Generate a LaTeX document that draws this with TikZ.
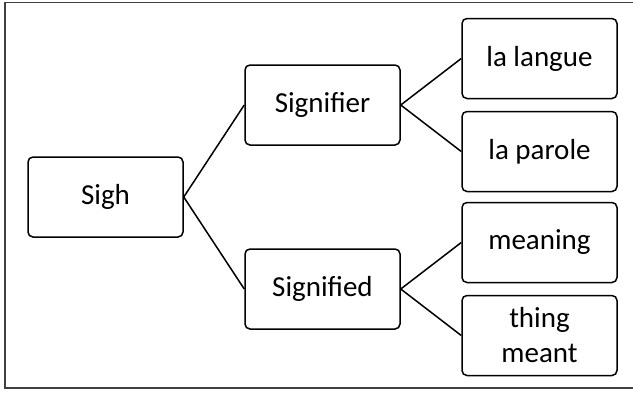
\documentclass[tikz,border=0pt]{standalone}
\usepackage{fontspec}
\setmainfont{Carlito}
\usetikzlibrary{positioning}

\begin{document}
\begin{tikzpicture}[
    node distance=92pt and 217pt,
    on grid,
    every node/.style={font=\fontsize{29}{35}\selectfont},
    term/.style={draw=black, line width=1.5pt, rounded corners=5pt, minimum width=155pt, minimum height=80pt, align=center, inner sep=2pt},
    link/.style={line width=1.5pt, draw=black}
]

   % Page and frame
   \useasboundingbox (0,0) rectangle (633pt,-394pt);
   \draw[black!75, line width=1.2pt] (640pt,-2.5pt) -- (5pt,-2.5pt) -- (5pt,-388pt) -- (640pt,-388pt);

   % Terms
   \node[term] (sigh) at (105.5pt,-197pt) {Sigh}; % root
   \node[term] (signifier) [above right=of sigh] {Signifier};
   \node[term] (signified) [below right=of sigh] {Signified};
   \node[term] (langue) [above right=46.5pt and 217pt of signifier] {la langue};
   \node[term] (parole) [below right=46.5pt and 217pt of signifier] {la parole};
   \node[term] (meaning) [above right=46.5pt and 217pt of signified] {meaning};
   \node[term] (thing) [below right=46.5pt and 217pt of signified] {thing\\meant};

   % Branches
   \path[link]
   (sigh.east) edge (signifier.west)
   (sigh.east) edge (signified.west)
   (signifier.east) edge (langue.west)
   (signifier.east) edge (parole.west)
   (signified.east) edge (meaning.west)
   (signified.east) edge (thing.west);
\end{tikzpicture}
\end{document}
